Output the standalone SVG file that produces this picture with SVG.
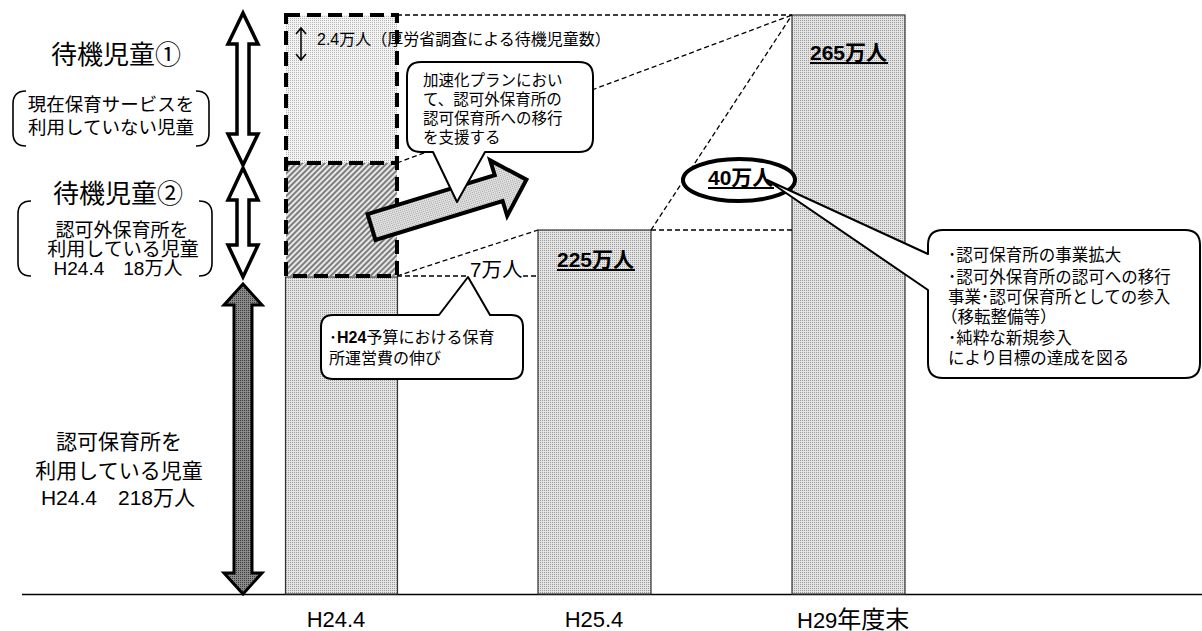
<svg xmlns="http://www.w3.org/2000/svg" width="1202" height="631" viewBox="0 0 1202 631">
<defs>
<style>
.t{font-family:'Liberation Sans','Noto Sans CJK JP',sans-serif;fill:#000}
.b{font-weight:bold}
.dash{fill:none;stroke:#000;stroke-width:1.3;stroke-dasharray:5 3}
.bar{fill:url(#pBar);stroke:#333;stroke-width:1.2}
.co{fill:#fff;stroke:#000;stroke-width:2;stroke-linejoin:round}
.wa{fill:#fff;stroke:#000;stroke-width:3.5;stroke-linejoin:miter}
.br{fill:none;stroke:#000;stroke-width:1.6}
.ul{stroke:#000;stroke-width:2}
</style>
<pattern id="pBar" width="2" height="2" patternUnits="userSpaceOnUse">
<rect width="2" height="2" fill="#e4e4e4"/><rect width="1" height="1" fill="#9a9a9a"/>
</pattern>
<pattern id="pLight" width="2" height="2" patternUnits="userSpaceOnUse">
<rect width="2" height="2" fill="#f4f4f4"/><rect width="1" height="1" fill="#b4b4b4"/>
</pattern>
<pattern id="pHatch" width="4" height="4" patternUnits="userSpaceOnUse" patternTransform="rotate(45)">
<rect width="4" height="4" fill="#e8e8e8"/><line x1="1" y1="0" x2="1" y2="4" stroke="#444" stroke-width="1.3"/>
</pattern>
<pattern id="pDark" width="2" height="2" patternUnits="userSpaceOnUse">
<rect width="2" height="2" fill="#8a8a8a"/><rect width="1" height="1" fill="#3a3a3a"/>
</pattern>
</defs>
<rect width="1202" height="631" fill="#fff"/>

<g id="axis">
<line x1="22" y1="594.5" x2="1202" y2="594.5" stroke="#000" stroke-width="1.5"/>
<text class="t" x="336" y="627" font-size="22" text-anchor="middle">H24.4</text>
<text class="t" x="594" y="627" font-size="22" text-anchor="middle">H25.4</text>
<text class="t" x="797" y="628" font-size="22">H29<tspan font-size="24">年度末</tspan></text>
</g>

<g id="bar1">
<rect class="bar" x="285.5" y="277" width="112" height="317"/>
</g>
<g id="bar1-waiting">
<rect x="286" y="15" width="111" height="148" fill="url(#pLight)"/>
<rect x="286" y="163" width="111" height="113" fill="url(#pHatch)"/>
<rect x="286" y="15" width="111" height="261" fill="none" stroke="#000" stroke-width="4" stroke-dasharray="14 7"/>
<line x1="286" y1="163" x2="397" y2="163" stroke="#000" stroke-width="4" stroke-dasharray="14 7"/>
</g>
<g id="bar2">
<rect class="bar" x="538" y="230" width="113" height="364"/>
<text class="t b" x="557" y="267" font-size="21">225万人</text>
<line class="ul" x1="557" y1="270" x2="635" y2="270"/>
</g>
<g id="bar3">
<rect class="bar" x="792" y="15" width="113" height="579"/>
<text class="t b" x="810" y="60" font-size="21">265万人</text>
<line class="ul" x1="810" y1="63" x2="888" y2="63"/>
</g>

<g id="connectors">
<line class="dash" x1="397" y1="15" x2="792" y2="15"/>
<line class="dash" x1="397" y1="163" x2="792" y2="15"/>
<line class="dash" x1="397" y1="276" x2="538" y2="230"/>
<line class="dash" x1="397" y1="276" x2="469" y2="276"/>
<line class="dash" x1="523" y1="276" x2="538" y2="276"/>
<line class="dash" x1="651" y1="230" x2="792" y2="230"/>
<line class="dash" x1="651" y1="230" x2="792" y2="15"/>
</g>

<g id="label-7man">
<text class="t" x="470" y="277" font-size="20.5">7万人</text>
</g>

<g id="small-arrow">
<path d="M301,28 V60 M296,34 L301,28 L306,34 M296,54 L301,60 L306,54" fill="none" stroke="#000" stroke-width="1.5"/>
<text class="t" x="317" y="45" font-size="16">2.4万人（厚労省調査による待機児童数）</text>
</g>

<g id="left-label-1">
<text class="t" x="116" y="64" font-size="26" text-anchor="middle">待機児童①</text>
<path class="br" d="M26,91 Q13,91 13,104 V133 Q13,146 26,146"/>
<path class="br" d="M196,91 Q209,91 209,104 V133 Q209,146 196,146"/>
<text class="t" x="111" y="111" font-size="18.5" text-anchor="middle">現在保育サービスを</text>
<text class="t" x="111" y="134" font-size="18.5" text-anchor="middle">利用していない児童</text>
</g>
<g id="left-label-2">
<text class="t" x="118" y="203" font-size="26" text-anchor="middle">待機児童②</text>
<path class="br" d="M31,201 Q18,201 18,214 V263 Q18,276 31,276"/>
<path class="br" d="M199,201 Q212,201 212,214 V263 Q212,276 199,276"/>
<text class="t" x="122" y="237" font-size="19" text-anchor="middle">認可外保育所を</text>
<text class="t" x="123" y="256" font-size="19" text-anchor="middle">利用している児童</text>
<text class="t" x="118" y="275" font-size="19" text-anchor="middle">H24.4　18万人</text>
</g>
<g id="left-label-3">
<text class="t" x="119" y="449" font-size="21" text-anchor="middle">認可保育所を</text>
<text class="t" x="119" y="478" font-size="21" text-anchor="middle">利用している児童</text>
<text class="t" x="118" y="505" font-size="21" text-anchor="middle">H24.4　218万人</text>
</g>

<g id="double-arrow-1">
<path class="wa" d="M243,13 L258,44 L249,44 L249,134 L258,134 L243,165 L228,134 L237,134 L237,44 L228,44 Z"/>
</g>
<g id="double-arrow-2">
<path class="wa" d="M243,168 L258,200 L249,200 L249,245 L258,245 L243,277 L228,245 L237,245 L237,200 L228,200 Z"/>
</g>
<g id="double-arrow-3">
<path d="M243,284 L262,305 L252,305 L252,573 L262,573 L243,594 L224,573 L234,573 L234,305 L224,305 Z" fill="url(#pDark)" stroke="#000" stroke-width="3"/>
</g>

<g id="block-arrow">
<path transform="translate(371.5,227) rotate(-17)" d="M0,-13.5 L133,-13.5 L133,-29 L162,0 L133,29 L133,13.5 L0,13.5 Z" fill="url(#pBar)" stroke="#000" stroke-width="4" stroke-linejoin="miter"/>
</g>

<g id="callout-accel">
<path class="co" d="M421,62 H579 Q593,62 593,76 V138 Q593,152 579,152 H485 L457,202 L433,152 H421 Q407,152 407,138 V76 Q407,62 421,62 Z"/>
<text class="t" x="423" y="86" font-size="15.5">加速化プランにおい</text>
<text class="t" x="423" y="105" font-size="15.5">て、認可外保育所の</text>
<text class="t" x="423" y="124" font-size="15.5">認可保育所への移行</text>
<text class="t" x="423" y="143" font-size="15.5">を支援する</text>
</g>

<g id="callout-h24">
<path class="co" d="M333,315 H439 L468,277 L490,315 H511 Q523,315 523,327 V367 Q523,379 511,379 H333 Q321,379 321,367 V327 Q321,315 333,315 Z"/>
<text class="t" x="329" y="343" font-size="16">･<tspan class="b">H24</tspan>予算における保育</text>
<text class="t" x="329" y="364" font-size="16">所運営費の伸び</text>
</g>

<g id="ellipse-40">
<ellipse cx="739" cy="180" rx="56" ry="21" fill="#fff" stroke="#000" stroke-width="4"/>
<text class="t b" x="708" y="185" font-size="21">40万人</text>
<line class="ul" x1="708" y1="188" x2="774" y2="188"/>
</g>

<g id="callout-measures">
<path class="co" d="M943,230 H1185 Q1200,230 1200,245 V363 Q1200,378 1185,378 H943 Q928,378 928,363 V290 L767,180 L928,254 V245 Q928,230 943,230 Z"/>
<text class="t" x="948" y="261" font-size="16.5">･認可保育所の事業拡大</text>
<text class="t" x="948" y="283" font-size="16.5">･認可外保育所の認可への移行</text>
<text class="t" x="948" y="303" font-size="16.5">事業･認可保育所としての参入</text>
<text class="t" x="941" y="323" font-size="16.5">（移転整備等）</text>
<text class="t" x="948" y="344" font-size="16.5">･純粋な新規参入</text>
<text class="t" x="948" y="364" font-size="16.5">により目標の達成を図る</text>
</g>
</svg>
